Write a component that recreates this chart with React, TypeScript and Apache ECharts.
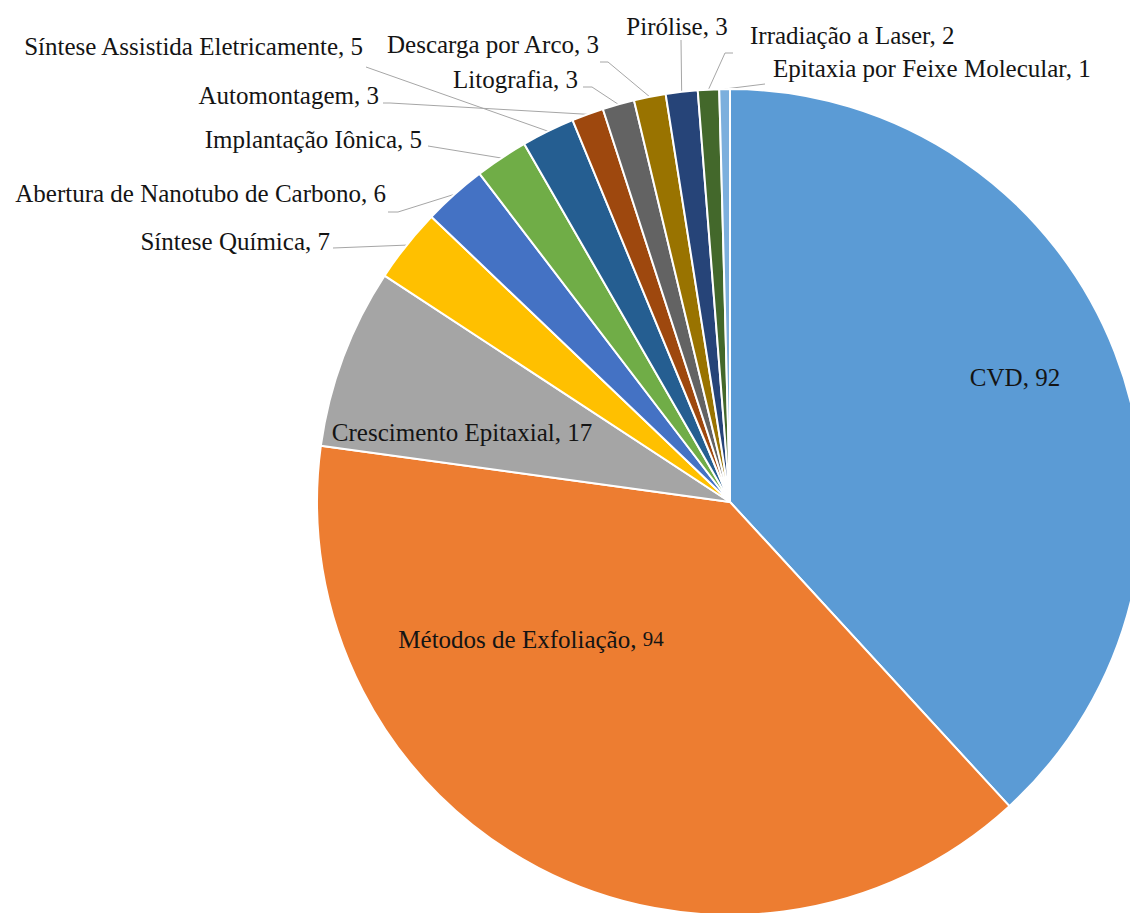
import React, { useEffect, useRef } from "react";
import * as echarts from "echarts";

const categories = [
  "CVD",
  "Métodos de Exfoliação",
  "Crescimento Epitaxial",
  "Síntese Química",
  "Abertura de Nanotubo de Carbono",
  "Implantação Iônica",
  "Síntese Assistida Eletricamente",
  "Automontagem",
  "Litografia",
  "Descarga por Arco",
  "Pirólise",
  "Irradiação a Laser",
  "Epitaxia por Feixe Molecular",
];
const values = [92, 94, 17, 7, 6, 5, 5, 3, 3, 3, 3, 2, 1];
const colors = [
  "#5B9BD5", "#ED7D31", "#A5A5A5", "#FFC000", "#4472C4", "#70AD47",
  "#255E91", "#9E480E", "#636363", "#997300", "#264478", "#43682B", "#7CAFDD",
];
const insideLabels = ["CVD", "Métodos de Exfoliação", "Crescimento Epitaxial"];
const smallValueLabels = ["Métodos de Exfoliação"];

// label placement (x, y, align) and leader-line elbow/end points
type LabelPos = { x: number; y: number; align: string; end?: number[]; elbow?: number[] };
const labelPlacement: Record<string, LabelPos> = {
  "CVD": { x: 1015, y: 377, align: "center" },
  "Métodos de Exfoliação": { x: 531, y: 639, align: "center" },
  "Crescimento Epitaxial": { x: 462, y: 432, align: "center" },
  "Síntese Química": { x: 330, y: 241, align: "right", end: [333, 248], elbow: [333, 248] },
  "Abertura de Nanotubo de Carbono": { x: 386, y: 193, align: "right", end: [388, 212], elbow: [398, 212] },
  "Implantação Iônica": { x: 422, y: 139, align: "right", end: [428, 146], elbow: [428, 146] },
  "Síntese Assistida Eletricamente": { x: 363, y: 46, align: "right", end: [366, 67], elbow: [366, 67] },
  "Automontagem": { x: 379, y: 95, align: "right", end: [383, 103], elbow: [390, 103] },
  "Litografia": { x: 578, y: 79, align: "right", end: [583, 87], elbow: [592, 87] },
  "Descarga por Arco": { x: 599, y: 44, align: "right", end: [600, 62], elbow: [608, 62] },
  "Pirólise": { x: 677, y: 26, align: "center", end: [681, 40], elbow: [681, 40] },
  "Irradiação a Laser": { x: 750, y: 35, align: "left", end: [733, 53], elbow: [725, 53] },
  "Epitaxia por Feixe Molecular": { x: 773, y: 68, align: "left", end: [765, 84], elbow: [765, 84] },
};

const FONT = "Liberation Serif";

export default function App() {
  const ref = useRef<HTMLDivElement>(null);
  useEffect(() => {
    if (!ref.current) return;
    const chart = echarts.init(ref.current, undefined, { renderer: "svg" });
    const data = categories.map((name, i) => {
      const inside = insideLabels.includes(name);
      return {
        name,
        value: values[i],
        itemStyle: { color: colors[i] },
        label: { position: inside ? "inside" : "outside" },
        labelLine: { show: !inside },
      };
    });
    chart.setOption({
      animation: false,
      backgroundColor: "#ffffff",
      series: [
        {
          type: "pie",
          center: [730, 502],
          radius: 413,
          startAngle: 90,
          clockwise: true,
          avoidLabelOverlap: false,
          data,
          itemStyle: { borderColor: "#ffffff", borderWidth: 2 },
          label: {
            show: true,
            fontFamily: FONT,
            fontSize: 25,
            color: "#141414",
            formatter: (p: any) =>
              smallValueLabels.includes(p.name)
                ? `{a|${p.name}, }{b|${p.value}}`
                : `${p.name}, ${p.value}`,
            rich: {
              a: { fontFamily: FONT, fontSize: 25, color: "#141414" },
              b: { fontFamily: FONT, fontSize: 21, color: "#141414" },
            },
          },
          labelLine: {
            show: true,
            length: 20,
            length2: 10,
            smooth: false,
            lineStyle: { color: "#a6a6a6", width: 1 },
          },
          labelLayout: (params: any) => {
            const name = categories[params.dataIndex];
            const pos = labelPlacement[name];
            if (!pos) return {};
            const res: any = {
              x: pos.x,
              y: pos.y,
              align: pos.align,
              verticalAlign: "middle",
            };
            if (pos.end && params.labelLinePoints) {
              const p0 = params.labelLinePoints[0];
              res.labelLinePoints = [[p0[0], p0[1]], pos.elbow, pos.end];
            }
            return res;
          },
        },
      ],
    });
    return () => chart.dispose();
  }, []);
  return (
    <div
      ref={ref}
      style={{ position: "fixed", left: 0, top: 0, width: 1130, height: 913 }}
    />
  );
}
